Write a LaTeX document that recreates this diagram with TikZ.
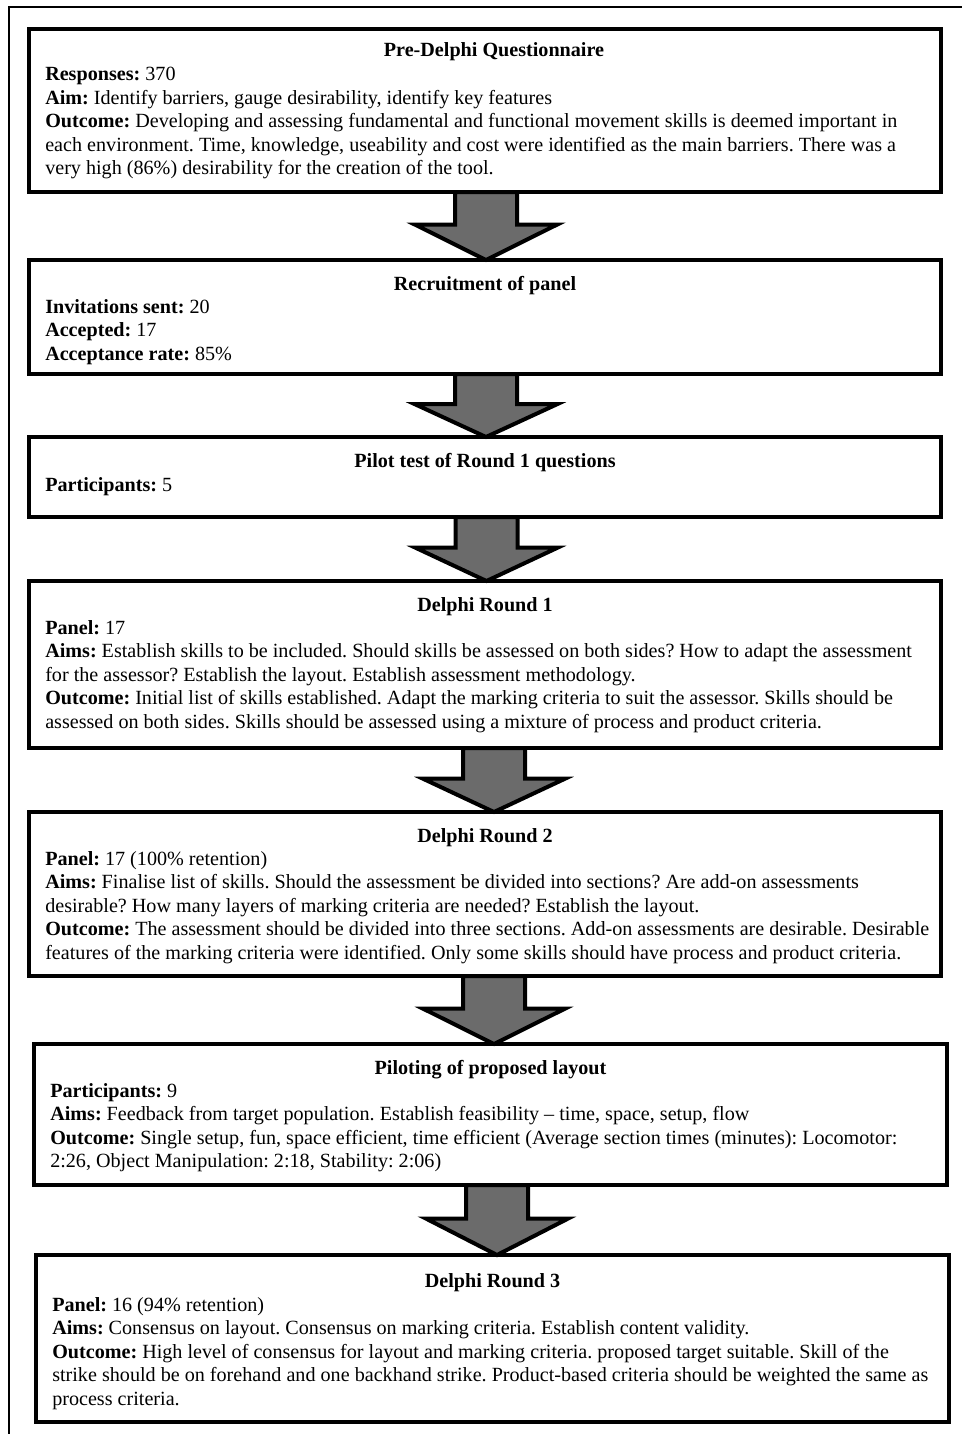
\documentclass[tikz,border=0pt]{standalone}
\usepackage{fontspec}
\setmainfont{Liberation Serif}
\usetikzlibrary{calc,fit}
\definecolor{arrowgray}{HTML}{6B6B6B}
\newcommand{\bodyfont}{\fontsize{15.1}{17.625}\selectfont\frenchspacing}
\newcommand{\flowarrow}[3]{%
  \coordinate (#1s) at (#2.south -| #1);
  \coordinate (#1e) at (#3.north -| #1);
  \coordinate (#1h) at ($(#1s)!0.48!(#1e)$);
  \draw[flow] ($(#1s)+(-31,0)$) -- ($(#1s)+(31,0)$) -- ($(#1h)+(31,0)$) -- ($(#1h)+(71,0)$)
    -- (#1e) -- ($(#1h)+(-71,0)$) -- ($(#1h)+(-31,0)$) -- cycle;
}
\newcommand{\bodytext}[1]{\begin{minipage}[t]{700pt}\raggedright\frenchspacing #1\end{minipage}}
\begin{document}
\begin{tikzpicture}[x=0.75pt,y=-0.75pt,
  box/.style={draw=black, line width=3.2pt, inner sep=0pt, outer sep=0pt},
  flow/.style={draw=black, fill=arrowgray, line width=3pt, line join=miter, miter limit=10},
  ttl/.style={anchor=base, inner sep=0pt, font=\bodyfont\bfseries},
  body/.style={anchor=base west, inner sep=0pt, font=\bodyfont},
  frame/.style={draw=black, line width=1.5pt}]
\useasboundingbox (0,0) rectangle (962,1434);
\draw[frame] (8.5,1434) -- (8.5,7.5) -- (962,7.5);

% boxes
\node[box, fit={(29,29) (941,192)}] (b1) {};
\node[box, fit={(29,260) (941,374)}] (b2) {};
\node[box, fit={(29,437) (941,517)}] (b3) {};
\node[box, fit={(29,581) (941,748)}] (b4) {};
\node[box, fit={(29,812) (941,976)}] (b5) {};
\node[box, fit={(34,1044) (947,1185)}] (b6) {};
\node[box, fit={(36,1255) (949,1422)}] (b7) {};

% titles
\node[ttl] (t1) at (494,57) {Pre-Delphi Questionnaire};
\node[ttl] (t2) at (485,290) {Recruitment of panel};
\node[ttl] (t3) at (485,467) {Pilot test of Round 1 questions};
\node[ttl] (t4) at (485,611) {Delphi Round 1};
\node[ttl] (t5) at (485,842) {Delphi Round 2};
\node[ttl] (t6) at (490.5,1074) {Piloting of proposed layout};
\node[ttl] (t7) at (492.5,1287) {Delphi Round 3};

% bodies
\node[body] (d1) at (45,81) {\bodytext{\textbf{Responses:} 370\\
\textbf{Aim:} Identify barriers, gauge desirability, identify key features\\
\textbf{Outcome:} Developing and assessing fundamental and functional movement skills is deemed important in\\
each environment. Time, knowledge, useability and cost were identified as the main barriers. There was a\\
very high (86\%) desirability for the creation of the tool.}};

\node[body] (d2) at (45,313) {\bodytext{\textbf{Invitations sent:} 20\\
\textbf{Accepted:} 17\\
\textbf{Acceptance rate:} 85\%}};

\node[body] (d3) at (45,491) {\bodytext{\textbf{Participants:} 5}};

\node[body] (d4) at (45,634) {\bodytext{\textbf{Panel:} 17\\
\textbf{Aims:} Establish skills to be included. Should skills be assessed on both sides? How to adapt the assessment\\
for the assessor? Establish the layout. Establish assessment methodology.\\
\textbf{Outcome:} Initial list of skills established. Adapt the marking criteria to suit the assessor. Skills should be\\
assessed on both sides. Skills should be assessed using a mixture of process and product criteria.}};

\node[body] (d5) at (45,865) {\bodytext{\textbf{Panel:} 17 (100\% retention)\\
\textbf{Aims:} Finalise list of skills. Should the assessment be divided into sections? Are add-on assessments\\
desirable? How many layers of marking criteria are needed? Establish the layout.\\
\textbf{Outcome:} The assessment should be divided into three sections. Add-on assessments are desirable. Desirable\\
features of the marking criteria were identified. Only some skills should have process and product criteria.}};

\node[body] (d6) at (50,1097) {\bodytext{\textbf{Participants:} 9\\
\textbf{Aims:} Feedback from target population. Establish feasibility – time, space, setup, flow\\
\textbf{Outcome:} Single setup, fun, space efficient, time efficient (Average section times (minutes): Locomotor:\\
2:26, Object Manipulation: 2:18, Stability: 2:06)}};

\node[body] (d7) at (52,1311) {\bodytext{\textbf{Panel:} 16 (94\% retention)\\
\textbf{Aims:} Consensus on layout. Consensus on marking criteria. Establish content validity.\\
\textbf{Outcome:} High level of consensus for layout and marking criteria. proposed target suitable. Skill of the\\
strike should be on forehand and one backhand strike. Product-based criteria should be weighted the same as\\
process criteria.}};

% arrows
\coordinate (a1) at (486,0);
\coordinate (a2) at (486,0);
\coordinate (a3) at (486.5,0);
\coordinate (a4) at (494,0);
\coordinate (a5) at (494,0);
\coordinate (a6) at (497,0);
\flowarrow{a1}{b1}{b2}
\flowarrow{a2}{b2}{b3}
\flowarrow{a3}{b3}{b4}
\flowarrow{a4}{b4}{b5}
\flowarrow{a5}{b5}{b6}
\flowarrow{a6}{b6}{b7}
\end{tikzpicture}
\end{document}
